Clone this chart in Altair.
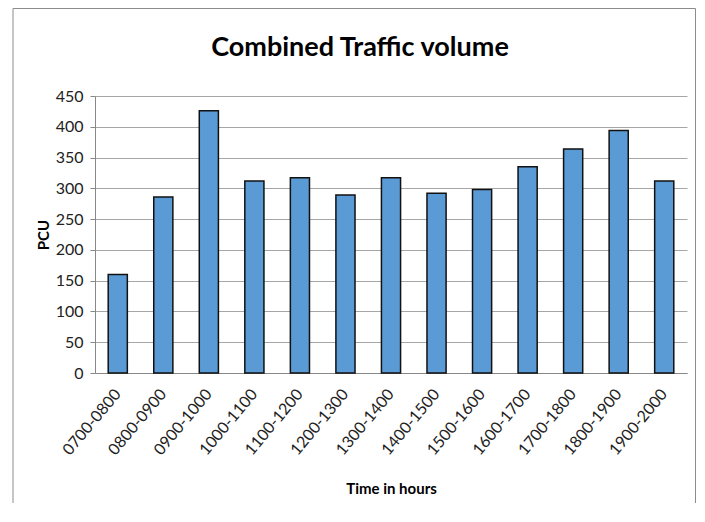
import altair as alt
import pandas as pd

hours = ["0700-0800", "0800-0900", "0900-1000", "1000-1100", "1100-1200",
         "1200-1300", "1300-1400", "1400-1500", "1500-1600", "1600-1700",
         "1700-1800", "1800-1900", "1900-2000"]
pcu = [160, 286, 426, 312, 317, 289, 317, 292, 298, 335, 364, 394, 312]
title_text = "Combined Traffic volume"

df = pd.DataFrame({"hour": hours, "pcu": pcu})

FONT = "Lato"

bars = alt.Chart(df).mark_bar(
    color="#5B9BD5", stroke="#111111", strokeWidth=1.5
).encode(
    x=alt.X("hour:N", sort=hours,
            scale=alt.Scale(paddingInner=0.58, paddingOuter=0.29),
            axis=alt.Axis(title="Time in hours", labelAngle=-50, labelFontSize=16,
                          labelColor="#222222", labelFont=FONT, ticks=False,
                          domainColor="#888888", titleFont=FONT, titleFontSize=15,
                          titleFontWeight="bold", titleColor="#000000", titlePadding=24,
                          labelPadding=18)),
    y=alt.Y("pcu:Q",
            scale=alt.Scale(domain=[0, 450], nice=False),
            axis=alt.Axis(title="PCU", values=list(range(0, 451, 50)), labelFontSize=16,
                          labelFont=FONT, labelColor="#222222", domainColor="#888888",
                          ticks=True, tickSize=5, tickColor="#888888",
                          gridColor="#a6a6a6", gridWidth=1, labelPadding=7,
                          titleFont=FONT, titleFontSize=15, titleFontWeight="bold",
                          titleColor="#000000", titlePadding=4)),
)

frame = alt.Chart(alt.Data(values=[{}])).mark_rect(
    fill=None, stroke="#8c8c8c", strokeWidth=1, clip=False
).encode(
    x=alt.value(-82), x2=alt.value(600.5), y=alt.value(-87.5), y2=alt.value(460)
)

title = alt.Chart(alt.Data(values=[{"t": title_text}])).mark_text(
    font=FONT, fontSize=27, fontWeight="bold", color="#000000",
    align="center", baseline="middle", clip=False
).encode(
    x=alt.value(265), y=alt.value(-48), text="t:N"
)

chart = alt.layer(bars, frame, title).properties(
    width=592, height=277,
    autosize=alt.AutoSizeParams(type="none"),
    padding={"left": 87, "top": 88, "right": 10, "bottom": 130},
).configure_view(stroke=None)

chart.save("out.html", embed_options={"renderer": "svg", "actions": False})
